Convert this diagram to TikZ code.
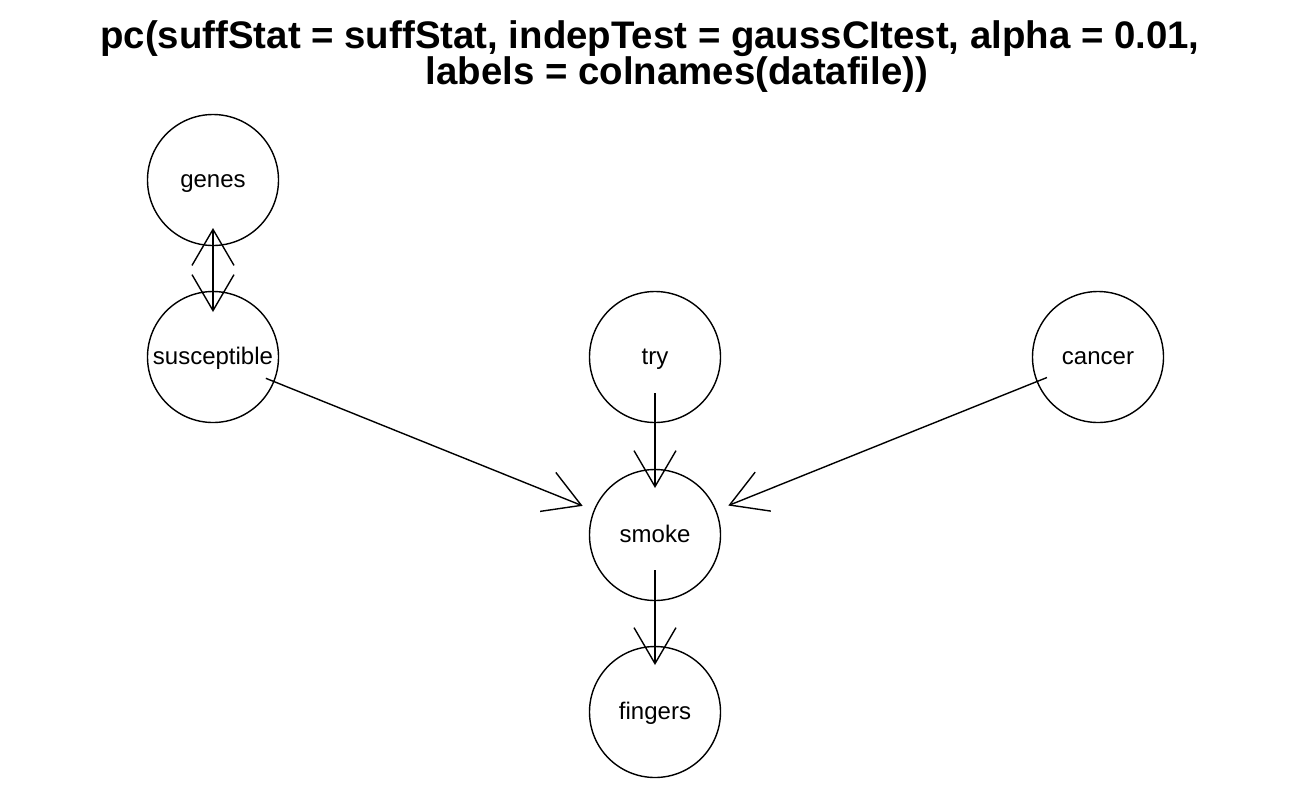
\documentclass[tikz,border=0pt]{standalone}
\usepackage{fontspec}
\setmainfont{Liberation Sans}
\usetikzlibrary{arrows.meta}
\begin{document}
\begin{tikzpicture}[x=0.5pt,y=-0.5pt,>={Straight Barb[length=18pt,width=21pt]},
    var/.style={draw,circle,line width=0.7pt,minimum size=65.5pt,inner sep=0pt,text height=0.75em,text depth=0.05em,font=\fontsize{12}{14}\selectfont},
    edge/.style={line width=0.7pt}]
  \useasboundingbox (0,0) rectangle (1312,810);
  \node[anchor=base,font=\bfseries\fontsize{19.2}{22}\selectfont] (title1) at (650,48) {pc(suffStat = suffStat, indepTest = gaussCItest, alpha = 0.01,};
  \node[anchor=base,font=\bfseries\fontsize{19.2}{22}\selectfont] (title2) at (677,84) {labels = colnames(datafile))};
  \node[var] (genes) at (213,180) {genes};
  \node[var] (susceptible) at (213,357) {susceptible};
  \node[var] (try) at (655,357) {try};
  \node[var] (cancer) at (1098,357) {cancer};
  \node[var] (smoke) at (655,535) {smoke};
  \node[var] (fingers) at (655,712) {fingers};
  \draw [edge,<->,shorten <=24pt,shorten >=22.5pt] (genes.center) -- (susceptible.center);
  \draw [edge,->,shorten <=28.5pt,shorten >=39pt] (susceptible.center) -- (smoke.center);
  \draw [edge,->,shorten <=18pt,shorten >=23.5pt] (try.center) -- (smoke.center);
  \draw [edge,->,shorten <=27.5pt,shorten >=39.5pt] (cancer.center) -- (smoke.center);
  \draw [edge,->,shorten <=17.5pt,shorten >=23.5pt] (smoke.center) -- (fingers.center);
\end{tikzpicture}
\end{document}
